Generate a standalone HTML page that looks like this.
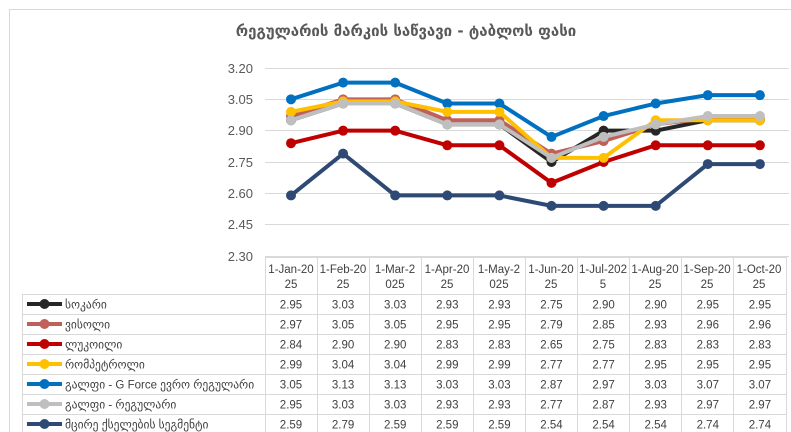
<!DOCTYPE html>
<html><head><meta charset="utf-8"><style>
body{margin:0;width:791px;height:432px;background:#fff;overflow:hidden;font-family:"Liberation Sans","DejaVu Sans",sans-serif}
</style></head><body>
<svg id="s" width="791" height="432" xmlns="http://www.w3.org/2000/svg" style="position:absolute;left:0;top:0">
<rect x="9.5" y="9.5" width="790" height="440" fill="#fff" stroke="#d9d9d9"/>
<text x="406" y="36" text-anchor="middle" font-size="15" font-weight="bold" fill="#595959" font-family="DejaVu Sans, sans-serif">რეგულარის მარკის საწვავი - ტაბლოს ფასი</text>
<g stroke="#d9d9d9" stroke-width="1">
<line x1="265" x2="789" y1="68.5" y2="68.5"/><line x1="265" x2="789" y1="99.5" y2="99.5"/><line x1="265" x2="789" y1="130.5" y2="130.5"/><line x1="265" x2="789" y1="162.5" y2="162.5"/><line x1="265" x2="789" y1="193.5" y2="193.5"/><line x1="265" x2="789" y1="224.5" y2="224.5"/><line x1="265" x2="789" y1="256.5" y2="256.5"/>
</g>
<g font-size="13" fill="#595959" text-anchor="end">
<text x="253" y="73">3.20</text><text x="253" y="104">3.05</text><text x="253" y="135">2.90</text><text x="253" y="167">2.75</text><text x="253" y="198">2.60</text><text x="253" y="229">2.45</text><text x="253" y="261">2.30</text>
</g>
<g id="lines"></g>
<g stroke="#d9d9d9" stroke-width="1" id="grid"></g>
<g font-size="11.5" fill="#404040" text-anchor="middle" id="hdr">
<text x="291" y="273">1-Jan-20</text><text x="291" y="288">25</text>
<text x="343" y="273">1-Feb-20</text><text x="343" y="288">25</text>
<text x="395" y="273">1-Mar-2</text><text x="395" y="288">025</text>
<text x="447" y="273">1-Apr-20</text><text x="447" y="288">25</text>
<text x="499" y="273">1-May-2</text><text x="499" y="288">025</text>
<text x="551" y="273">1-Jun-20</text><text x="551" y="288">25</text>
<text x="603" y="273">1-Jul-202</text><text x="603" y="288">5</text>
<text x="655" y="273">1-Aug-20</text><text x="655" y="288">25</text>
<text x="707" y="273">1-Sep-20</text><text x="707" y="288">25</text>
<text x="759" y="273">1-Oct-20</text><text x="759" y="288">25</text>
</g>
<g id="tbl" font-size="11.5" fill="#404040"></g>
</svg>
<script>
var names=["სოკარი","ვისოლი","ლუკოილი","რომპეტროლი","გალფი - G Force ევრო რეგულარი","გალფი - რეგულარი","მცირე ქსელების სეგმენტი"];
var cols=["#262626","#c0605a","#c00000","#ffc000","#0070c0","#bfbfbf","#2e4a74"];
var d=[[2.95,3.03,3.03,2.93,2.93,2.75,2.90,2.90,2.95,2.95],
[2.97,3.05,3.05,2.95,2.95,2.79,2.85,2.93,2.96,2.96],
[2.84,2.90,2.90,2.83,2.83,2.65,2.75,2.83,2.83,2.83],
[2.99,3.04,3.04,2.99,2.99,2.77,2.77,2.95,2.95,2.95],
[3.05,3.13,3.13,3.03,3.03,2.87,2.97,3.03,3.07,3.07],
[2.95,3.03,3.03,2.93,2.93,2.77,2.87,2.93,2.97,2.97],
[2.59,2.79,2.59,2.59,2.59,2.54,2.54,2.54,2.74,2.74]];
var NS="http://www.w3.org/2000/svg";
function el(t,a,p){var e=document.createElementNS(NS,t);for(var k in a)e.setAttribute(k,a[k]);p.appendChild(e);return e;}
var L=document.getElementById("lines"),G=document.getElementById("grid"),T=document.getElementById("tbl");
var X=function(i){return 291+52.1*i},Y=function(v){return 68+(3.2-v)*208.9};
[6,2,4,0,1,3,5].forEach(function(s){
 var pts=d[s].map(function(v,i){return X(i)+","+Y(v)}).join(" ");
 el("polyline",{points:pts,fill:"none",stroke:cols[s],"stroke-width":4,"stroke-linejoin":"round"},L);
 d[s].forEach(function(v,i){el("circle",{cx:X(i),cy:Y(v),r:5,fill:cols[s]},L)});
});
// table grid
var xs=[265,317,369,421,473,525,577,629,681,733,786];
xs.forEach(function(x){el("line",{x1:x+.5,x2:x+.5,y1:257,y2:432},G)});
el("line",{x1:22.5,x2:22.5,y1:294,y2:432},G);
el("line",{x1:265,x2:786,y1:257.5,y2:257.5},G);
for(var r=0;r<7;r++){var y=294+r*20;el("line",{x1:22,x2:786,y1:y+.5,y2:y+.5},G);}
for(var r=0;r<7;r++){
 var cy=304+r*20;
 el("line",{x1:27,x2:62,y1:cy,y2:cy,stroke:cols[r],"stroke-width":4},T);
 el("circle",{cx:44.5,cy:cy,r:5,fill:cols[r]},T);
 var t=el("text",{x:65,y:cy+4.5},T);t.textContent=names[r];
 d[r].forEach(function(v,i){var t=el("text",{x:X(i),y:cy+4.5,"text-anchor":"middle"},T);t.textContent=v.toFixed(2);});
}
</script>
</body></html>
